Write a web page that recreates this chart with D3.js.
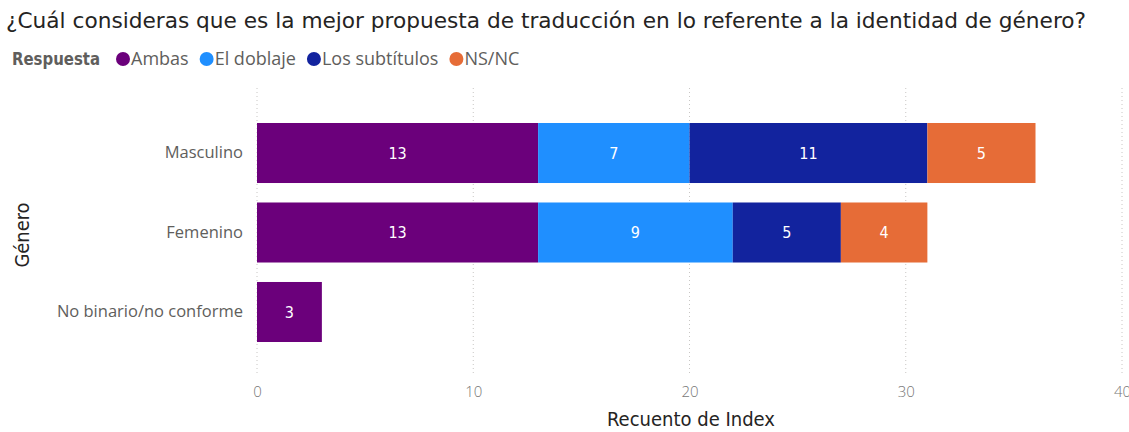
<!DOCTYPE html>
<html>
<head>
<meta charset="utf-8">
<script src="https://cdn.jsdelivr.net/npm/d3@7"></script>
<style>
  html, body { margin: 0; padding: 0; background: #ffffff; }
  svg { display: block; }
</style>
</head>
<body>
<svg id="chart" width="1129" height="432"></svg>
<script>
// Data
const categories = ["Masculino", "Femenino", "No binario/no conforme"];
const seriesNames = ["Ambas", "El doblaje", "Los subtítulos", "NS/NC"];
const ambas = [13, 13, 3];
const doblaje = [7, 9, 0];
const subtitulos = [11, 5, 0];
const nsnc = [5, 4, 0];
const xTicks = [0, 10, 20, 30, 40];
const colors = ["#6B007B", "#1F8FFF", "#12239E", "#E66C37"];

const rows = categories.map((c, i) => ({
  cat: c,
  "Ambas": ambas[i],
  "El doblaje": doblaje[i],
  "Los subtítulos": subtitulos[i],
  "NS/NC": nsnc[i]
}));

const svg = d3.select("#chart");

const x = d3.scaleLinear().domain([0, 40]).range([257, 1122]);
const y = d3.scaleBand().domain(categories).range([83.25, 381.75]).paddingInner(0.245).paddingOuter(0.5);
const color = d3.scaleOrdinal().domain(seriesNames).range(colors);

const textFont = "'Open Sans', 'DejaVu Sans', sans-serif";
const titleFont = "'DejaVu Sans Condensed', 'DejaVu Sans', sans-serif";

// Fit a text element to a given width
function fit(sel, w) {
  sel.attr("textLength", w).attr("lengthAdjust", "spacingAndGlyphs");
  return sel;
}

// Title
fit(svg.append("text")
  .attr("x", 6).attr("y", 28)
  .attr("font-family", titleFont)
  .attr("font-size", 21)
  .attr("fill", "#252423")
  .text("¿Cuál consideras que es la mejor propuesta de traducción en lo referente a la identidad de género?"), 1080);

// Legend: title, then a dot and a label per series, laid out left to right
const legend = svg.append("g").attr("transform", "translate(0,65)");
fit(legend.append("text")
  .attr("x", 12).attr("y", 0)
  .attr("font-family", titleFont)
  .attr("font-weight", "bold")
  .attr("font-size", 17)
  .attr("fill", "#605E5C")
  .text("Respuesta"), 88);
let lx = 12 + 88 + 16;
seriesNames.forEach(s => {
  legend.append("circle")
    .attr("cx", lx + 7).attr("cy", -6).attr("r", 7)
    .attr("fill", color(s));
  const t = legend.append("text")
    .attr("x", lx + 15).attr("y", 0)
    .attr("font-family", textFont)
    .attr("font-size", 18)
    .attr("fill", "#605E5C")
    .text(s);
  lx += 15 + t.node().getComputedTextLength() + 11;
});

// Vertical gridlines
svg.append("g")
  .selectAll("line")
  .data(xTicks)
  .join("line")
  .attr("x1", d => x(d)).attr("x2", d => x(d))
  .attr("y1", 88).attr("y2", 374)
  .attr("stroke", "#C8C6C4")
  .attr("stroke-width", 1)
  .attr("stroke-dasharray", "1,3");

// Stacked bars
const stack = d3.stack().keys(seriesNames)(rows);
const layers = svg.append("g")
  .selectAll("g")
  .data(stack)
  .join("g")
  .attr("fill", d => color(d.key));

layers.selectAll("rect")
  .data(d => d.filter(p => p[1] - p[0] > 0))
  .join("rect")
  .attr("x", d => x(d[0]))
  .attr("y", d => y(d.data.cat))
  .attr("width", d => x(d[1]) - x(d[0]))
  .attr("height", y.bandwidth());

// Data labels
layers.selectAll("text")
  .data(d => d.filter(p => p[1] - p[0] > 0))
  .join("text")
  .attr("x", d => (x(d[0]) + x(d[1])) / 2)
  .attr("y", d => y(d.data.cat) + y.bandwidth() / 2)
  .attr("dy", "0.36em")
  .attr("text-anchor", "middle")
  .attr("font-family", titleFont)
  .attr("font-size", 16)
  .attr("fill", "#ffffff")
  .text(d => d[1] - d[0]);

// Y axis category labels
const yAxis = svg.append("g")
  .attr("transform", "translate(243,0)")
  .call(d3.axisLeft(y).tickSize(0).tickPadding(0));
yAxis.select(".domain").remove();
yAxis.selectAll("text")
  .attr("font-family", textFont)
  .attr("font-size", 16.5)
  .attr("fill", "#605E5C");

// X axis tick labels
const xAxis = svg.append("g")
  .attr("transform", "translate(0,386)")
  .call(d3.axisBottom(x).tickValues(xTicks).tickSize(0).tickPadding(0));
xAxis.select(".domain").remove();
xAxis.selectAll("text")
  .attr("font-family", textFont)
  .attr("font-weight", 300)
  .attr("font-size", 15)
  .attr("fill", "#777777");

// Axis titles
fit(svg.append("text")
  .attr("x", 691).attr("y", 426)
  .attr("text-anchor", "middle")
  .attr("font-family", titleFont)
  .attr("font-size", 20)
  .attr("fill", "#252423")
  .text("Recuento de Index"), 168);

fit(svg.append("text")
  .attr("transform", "translate(29,235) rotate(-90)")
  .attr("text-anchor", "middle")
  .attr("font-family", titleFont)
  .attr("font-size", 20)
  .attr("fill", "#252423")
  .text("Género"), 65);
</script>
</body>
</html>
